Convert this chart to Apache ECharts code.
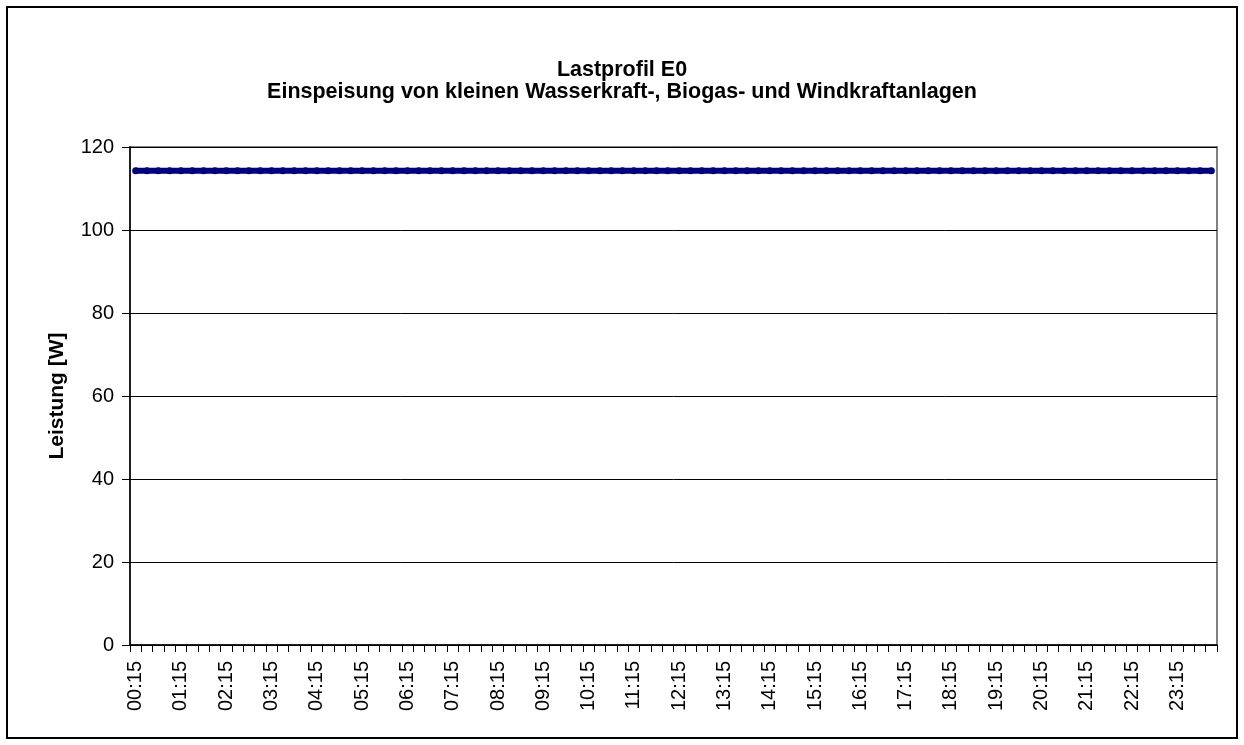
<!DOCTYPE html>
<html><head><meta charset="utf-8">
<script src="https://cdn.jsdelivr.net/npm/echarts@6/dist/echarts.min.js"></script>
<style>html,body{margin:0;padding:0;background:#fff}#c{width:1244px;height:745px}</style>
</head><body><div id="c"></div>
<script>
const titleLines = ["Lastprofil E0", "Einspeisung von kleinen Wasserkraft-, Biogas- und Windkraftanlagen"];
const yAxisName = "Leistung [W]";
const categories = [
"00:15","00:30","00:45","01:00","01:15","01:30","01:45","02:00","02:15","02:30","02:45","03:00",
"03:15","03:30","03:45","04:00","04:15","04:30","04:45","05:00","05:15","05:30","05:45","06:00",
"06:15","06:30","06:45","07:00","07:15","07:30","07:45","08:00","08:15","08:30","08:45","09:00",
"09:15","09:30","09:45","10:00","10:15","10:30","10:45","11:00","11:15","11:30","11:45","12:00",
"12:15","12:30","12:45","13:00","13:15","13:30","13:45","14:00","14:15","14:30","14:45","15:00",
"15:15","15:30","15:45","16:00","16:15","16:30","16:45","17:00","17:15","17:30","17:45","18:00",
"18:15","18:30","18:45","19:00","19:15","19:30","19:45","20:00","20:15","20:30","20:45","21:00",
"21:15","21:30","21:45","22:00","22:15","22:30","22:45","23:00","23:15","23:30","23:45","24:00"];
const leistung = [
114.3,114.3,114.3,114.3,114.3,114.3,114.3,114.3,114.3,114.3,114.3,114.3,
114.3,114.3,114.3,114.3,114.3,114.3,114.3,114.3,114.3,114.3,114.3,114.3,
114.3,114.3,114.3,114.3,114.3,114.3,114.3,114.3,114.3,114.3,114.3,114.3,
114.3,114.3,114.3,114.3,114.3,114.3,114.3,114.3,114.3,114.3,114.3,114.3,
114.3,114.3,114.3,114.3,114.3,114.3,114.3,114.3,114.3,114.3,114.3,114.3,
114.3,114.3,114.3,114.3,114.3,114.3,114.3,114.3,114.3,114.3,114.3,114.3,
114.3,114.3,114.3,114.3,114.3,114.3,114.3,114.3,114.3,114.3,114.3,114.3,
114.3,114.3,114.3,114.3,114.3,114.3,114.3,114.3,114.3,114.3,114.3,114.3];
const yTicks = [0, 20, 40, 60, 80, 100, 120];

const font = "'Liberation Sans', Arial, sans-serif";
const chart = echarts.init(document.getElementById('c'), null, {renderer: 'canvas'});
chart.setOption({
  animation: false,
  backgroundColor: '#fff',
  textStyle: {fontFamily: font},
  graphic: [{
    type: 'rect', z: 100, silent: true,
    shape: {x: 7, y: 7, width: 1230, height: 731},
    style: {fill: 'none', stroke: '#000', lineWidth: 2}
  }],
  title: {
    text: titleLines.join('\n'),
    left: 'center', top: 54,
    textStyle: {fontFamily: font, fontWeight: 'bold', fontSize: 21.5, lineHeight: 22, color: '#000'}
  },
  grid: {
    left: 130, right: 27, top: 147, bottom: 100,
    show: true, borderColor: '#808080', borderWidth: 2, backgroundColor: '#fff'
  },
  xAxis: {
    type: 'category', data: categories, boundaryGap: true,
    axisLine: {lineStyle: {color: '#000', width: 1.5}},
    axisTick: {show: true, interval: 0, length: 7, lineStyle: {color: '#000'}},
    axisLabel: {interval: 3, rotate: 90, fontSize: 20, color: '#000', fontFamily: font, margin: 16},
    splitLine: {show: false}
  },
  yAxis: {
    type: 'value', min: yTicks[0], max: yTicks[yTicks.length - 1], interval: 20,
    name: yAxisName, nameLocation: 'middle', nameGap: 62,
    nameTextStyle: {fontFamily: font, fontWeight: 'bold', fontSize: 21, color: '#000'},
    axisLine: {show: true, lineStyle: {color: '#000', width: 1.5}},
    axisTick: {show: true, length: 8, lineStyle: {color: '#000'}},
    axisLabel: {fontSize: 20, color: '#000', fontFamily: font, margin: 16},
    splitLine: {show: true, lineStyle: {color: '#000', width: 1}}
  },
  series: [{
    type: 'line', data: leistung,
    symbol: 'circle', symbolSize: 7, showSymbol: true,
    lineStyle: {color: '#000080', width: 6},
    itemStyle: {color: '#000080'}
  }]
});
</script></body></html>
